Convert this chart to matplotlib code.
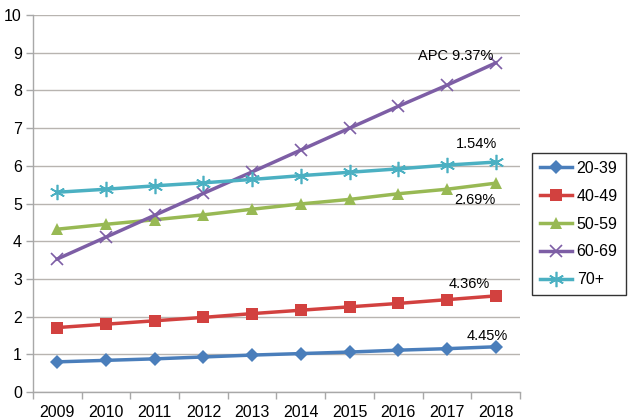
import matplotlib
matplotlib.use("Agg")
import matplotlib.pyplot as plt

years = ["2009", "2010", "2011", "2012", "2013", "2014", "2015", "2016", "2017", "2018"]
s_20_39 = [0.80, 0.84, 0.88, 0.93, 0.98, 1.02, 1.06, 1.11, 1.15, 1.20]
s_40_49 = [1.71, 1.80, 1.89, 1.98, 2.08, 2.17, 2.26, 2.35, 2.45, 2.55]
s_50_59 = [4.32, 4.45, 4.57, 4.70, 4.85, 4.99, 5.11, 5.26, 5.38, 5.54]
s_60_69 = [3.53, 4.11, 4.69, 5.27, 5.84, 6.42, 7.00, 7.58, 8.14, 8.73]
s_70 = [5.30, 5.38, 5.47, 5.55, 5.64, 5.74, 5.83, 5.92, 6.02, 6.10]
labels = ["20-39", "40-49", "50-59", "60-69", "70+"]
apc = ["4.45%", "4.36%", "2.69%", "APC 9.37%", "1.54%"]

plt.rcParams['font.family'] = ['Liberation Sans', 'DejaVu Sans']

fig = plt.figure(figsize=(6.28, 4.19), dpi=100)
ax = fig.add_axes([0.0525, 0.0644, 0.7755, 0.8996])

x = list(range(len(years)))
series = [s_20_39, s_40_49, s_50_59, s_60_69, s_70]
colors = ["#4a7ebb", "#d2413f", "#98b954", "#7d5ea5", "#4bb0c2"]
markers = ["D", "s", "^", "x", (6, 2, 0)]
msizes = [7, 9, 9, 9, 11]

for s, lab, c, m, ms in zip(series, labels, colors, markers, msizes):
    ax.plot(x, s, color=c, lw=2.5, marker=m, markersize=ms,
            markeredgewidth=1.2 if (m == "x" or isinstance(m, tuple)) else 0,
            markeredgecolor=c, markerfacecolor=c, label=lab, zorder=3)

ax.set_xlim(-0.5, 9.5)
ax.set_ylim(0, 10)
ax.set_yticks(range(0, 11))
ax.set_xticks(x)
ax.set_xticklabels(years)
ax.set_xticks([i - 0.5 for i in range(11)], minor=True)
ax.tick_params(axis='x', which='major', length=0, pad=9, labelsize=11.5)
ax.tick_params(axis='x', which='minor', length=5, color='#a8a8a8', width=1)
ax.tick_params(axis='y', length=5, color='#a8a8a8', width=1, labelsize=11.5, pad=3)
ax.grid(axis='y', color='#b8b4b0', lw=1)
ax.set_axisbelow(True)
for sp in ['top', 'right']:
    ax.spines[sp].set_visible(False)
for sp in ['left', 'bottom']:
    ax.spines[sp].set_color('#a8a8a8')
    ax.spines[sp].set_linewidth(1)

# annotations (label positions near series ends)
ax.annotate(apc[3], (9, s_60_69[9]), xytext=(-29, 2), textcoords='offset points', ha='center', fontsize=10.5)
ax.annotate(apc[4], (9, s_70[9]), xytext=(-14, 10), textcoords='offset points', ha='center', fontsize=10.5)
ax.annotate(apc[2], (9, s_50_59[9]), xytext=(-15, -15), textcoords='offset points', ha='center', fontsize=10.5)
ax.annotate(apc[1], (9, s_40_49[9]), xytext=(-19, 5.5), textcoords='offset points', ha='center', fontsize=10.5)
ax.annotate(apc[0], (9, s_20_39[9]), xytext=(-6, 5), textcoords='offset points', ha='center', fontsize=10.5)

leg = fig.legend(loc='upper left', bbox_to_anchor=(532 / 628, 1 - 153 / 419), fontsize=11.5,
                 frameon=True, fancybox=False, edgecolor='black', handlelength=2.0,
                 labelspacing=0.8, borderpad=0.5, handletextpad=0.3, borderaxespad=0)
leg.get_frame().set_linewidth(1)

fig.savefig("out.png", dpi=100)
